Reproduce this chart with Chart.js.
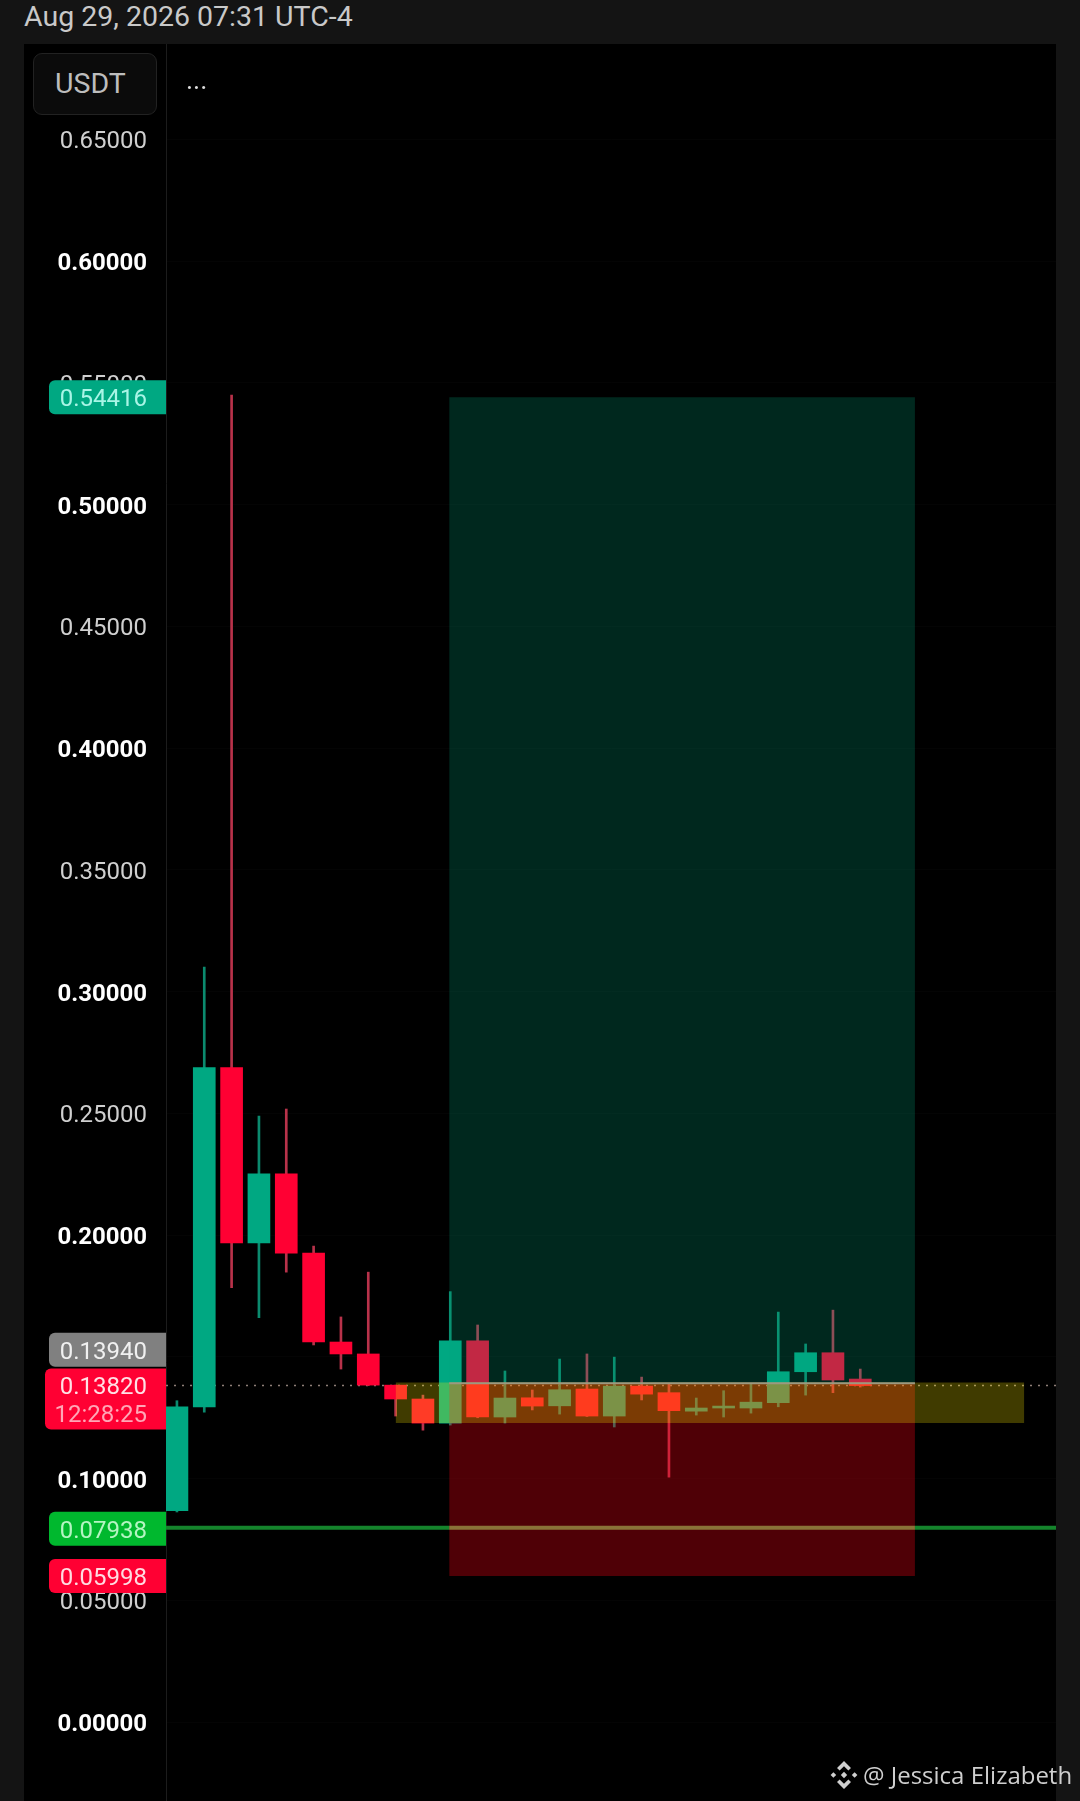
<!DOCTYPE html>
<html>
<head>
<meta charset="utf-8">
<title>USDT</title>
<script src="https://cdn.jsdelivr.net/npm/chart.js@4"></script>
<style>
    html, body { margin: 0; padding: 0; background: #141414; }
    body { width: 1080px; height: 1801px; position: relative; overflow: hidden; font-family: Roboto, sans-serif; }
    #date { position: absolute; left: 24px; top: 0; line-height: 33px; font-size: 28.5px; color: #c9c9c9; white-space: nowrap; }
    #panel { position: absolute; left: 24px; top: 44px; width: 1032px; height: 1757px; background: #000; }
    #panel canvas { position: absolute; left: 0; top: 0; }
    #pair { position: absolute; left: 33px; top: 53px; width: 122px; height: 60px; border: 1px solid #222; border-radius: 9px; background: #0b0b0b; color: #bdbdbd; font-size: 28.5px; line-height: 60px; text-indent: 21px; }
    #more { position: absolute; left: 186px; top: 68px; color: #ddd; font-size: 27px; line-height: 24px; }
    #mark { position: absolute; left: 830px; top: 1759px; height: 32px; color: #cfcfcf; font-family: "Open Sans", sans-serif; font-size: 24px; line-height: 32px; white-space: nowrap; }
    #mark svg { position: absolute; left: 0; top: 2px; }
    #mark span { position: absolute; left: 33px; top: 0; }
</style>
</head>
<body>
<div id="date">Aug 29, 2026 07:31 UTC-4</div>
<div id="panel"><canvas id="priceChart" width="1032" height="1757"></canvas></div>
<div id="pair">USDT</div>
<div id="more">...</div>
<div id="mark">
    <svg width="28" height="28" viewBox="0 0 28 28" fill="#cfcfcf">
        <path d="M14 0l7 7-2.6 2.6L14 5.2 9.6 9.6 7 7z"/>
        <path d="M14 28l-7-7 2.6-2.6 4.4 4.4 4.4-4.4 2.6 2.6z"/>
        <path d="M3.4 11.2L6.2 14l-2.8 2.8L.6 14z"/>
        <path d="M24.6 11.2L27.4 14l-2.8 2.8L21.8 14z"/>
        <path d="M14 10.8l3.2 3.2-3.2 3.2-3.2-3.2z"/>
    </svg>
    <span>@ Jessica Elizabeth</span>
</div>
<script>
// candles, oldest first
const opens  = [0.0868, 0.1294, 0.2688, 0.1968, 0.2252, 0.1926, 0.1561, 0.1512, 0.1384, 0.1327, 0.1228, 0.1566, 0.1253, 0.1332, 0.1299, 0.1368, 0.1257, 0.1380, 0.1353, 0.1277, 0.1290, 0.1290, 0.1312, 0.1439, 0.1517, 0.1409];
const closes = [0.1295, 0.2688, 0.1968, 0.2252, 0.1926, 0.1561, 0.1512, 0.1384, 0.1327, 0.1228, 0.1566, 0.1253, 0.1331, 0.1298, 0.1365, 0.1257, 0.1380, 0.1347, 0.1279, 0.1290, 0.1298, 0.1314, 0.1439, 0.1517, 0.1405, 0.1382];
const highs  = [0.1320, 0.3101, 0.5450, 0.2489, 0.2518, 0.1955, 0.1664, 0.1848, 0.1384, 0.1343, 0.1768, 0.1631, 0.1442, 0.1364, 0.1491, 0.1512, 0.1499, 0.1417, 0.1388, 0.1331, 0.1361, 0.1388, 0.1684, 0.1553, 0.1692, 0.1450];
const lows   = [0.0863, 0.1273, 0.1784, 0.1661, 0.1848, 0.1549, 0.1450, 0.1382, 0.1257, 0.1199, 0.1220, 0.1250, 0.1228, 0.1282, 0.1265, 0.1255, 0.1212, 0.1323, 0.1006, 0.1261, 0.1253, 0.1269, 0.1295, 0.1343, 0.1353, 0.1376];

const tickValues = [0.65, 0.60, 0.55, 0.50, 0.45, 0.40, 0.35, 0.30, 0.25, 0.20, 0.15, 0.10, 0.05, 0.00];
const boldTicks  = [0.60, 0.50, 0.40, 0.30, 0.20, 0.10, 0.00];

// position tool and price levels
const takeProfit = 0.54416;
const entryPrice = 0.13920;
const stopLoss   = 0.05998;
const zoneRange  = [9.96, 27];
const bandRange  = [8, 31];
const bandTop    = 0.1395;
const bandBottom = 0.1228;
const lastPrice  = 0.13820;
const priceLevel = 0.07980;
const xRange     = [-0.4, 32.16];
const yRange     = [-0.0324, 0.6892];

// price tags on the axis
const tagLabels = ['0.54416', '0.13940', '0.07938', '0.05998'];
const tagValues = [0.54416, 0.13940, 0.07938, 0.05998];
const countdown = '12:28:25';

const UP = '#00a882', DOWN = '#ff0033';
const UP_WICK = '#0b8a6e', DOWN_WICK = '#b8324a';
const TAG_COLORS = ['#00a882', '#808080', '#00b82e', '#ff0033'];
const TAG_TEXT = ['#a8f5e6', '#f0f0f0', '#b4f5c2', '#ffdbe1'];

const indexes = opens.map((_, i) => i);
const isUp = i => closes[i] >= opens[i];
const isBold = c => !!c.tick && boldTicks.includes(c.tick.value);

// rounded price tags sit on top of the axis
const tagPlugin = {
    id: 'priceTags',
    afterDraw(chart) {
        const ctx = chart.ctx, y = chart.scales.y, right = chart.chartArea.left;
        ctx.save();
        ctx.font = '24px Roboto';
        ctx.textBaseline = 'middle';
        ctx.textAlign = 'right';
        tagLabels.forEach((label, i) => {
            // the grey tag is pushed up so it clears the last price tag
            const py = y.getPixelForValue(tagValues[i]) + (i === 1 ? -33 : 0);
            ctx.fillStyle = TAG_COLORS[i];
            ctx.beginPath();
            ctx.roundRect(25, py - 17, right - 25, 34, [6, 0, 0, 6]);
            ctx.fill();
            ctx.fillStyle = TAG_TEXT[i];
            ctx.fillText(label, 123, py + 3);
        });
        // last price tag with the countdown under it
        const py = y.getPixelForValue(lastPrice);
        ctx.fillStyle = '#ff0033';
        ctx.beginPath();
        ctx.roundRect(21, py - 17, right - 21, 61, [6, 0, 0, 6]);
        ctx.fill();
        ctx.fillStyle = '#ffe0e5';
        ctx.fillText(lastPrice.toFixed(5), 123, py + 2);
        ctx.fillStyle = '#ffa6b6';
        ctx.fillText(countdown, 123, py + 30);
        ctx.restore();
    }
};

new Chart(document.getElementById('priceChart'), {
    type: 'bar',
    data: {
        datasets: [
            {
                type: 'line', label: 'entry', order: 0,
                data: zoneRange.map(x => ({ x, y: entryPrice })),
                borderWidth: 2, borderColor: '#9c9880', pointRadius: 0, fill: false
            },
            {
                type: 'line', label: 'band', order: 1,
                data: bandRange.map(x => ({ x, y: bandTop })),
                fill: { value: bandBottom }, backgroundColor: 'rgba(255,235,0,0.25)',
                borderWidth: 0, pointRadius: 0
            },
            {
                type: 'line', label: 'level', order: 2,
                data: [xRange[0], zoneRange[0], zoneRange[1], xRange[1]].map(x => ({ x, y: priceLevel })),
                borderWidth: 4, borderColor: '#15842c', pointRadius: 0, fill: false,
                segment: { borderColor: c => c.p0DataIndex === 1 ? '#8a7238' : '#15842c' }
            },
            {
                type: 'line', label: 'target', order: 3,
                data: zoneRange.map(x => ({ x, y: takeProfit })),
                fill: { value: entryPrice }, backgroundColor: 'rgba(0,168,125,0.24)',
                borderWidth: 0, pointRadius: 0
            },
            {
                type: 'line', label: 'stop', order: 4,
                data: zoneRange.map(x => ({ x, y: stopLoss })),
                fill: { value: entryPrice }, backgroundColor: 'rgba(255,0,20,0.31)',
                borderWidth: 0, pointRadius: 0
            },
            {
                label: 'body', order: 5, grouped: false, barThickness: 22,
                data: indexes.map(i => ({ x: i, y: [opens[i], closes[i]] })),
                backgroundColor: indexes.map(i => isUp(i) ? UP : DOWN),
                borderWidth: 0
            },
            {
                label: 'wick', order: 6, grouped: false, barThickness: 2,
                data: indexes.map(i => ({ x: i, y: [lows[i], highs[i]] })),
                backgroundColor: indexes.map(i => isUp(i) ? UP_WICK : DOWN_WICK),
                borderWidth: 0
            },
            {
                type: 'line', label: 'last', order: 7,
                data: xRange.map(x => ({ x, y: lastPrice })),
                borderWidth: 1.5, borderDash: [2, 6], borderColor: '#8f7f78', pointRadius: 0, fill: false
            }
        ]
    },
    options: {
        responsive: false,
        animation: false,
        events: [],
        layout: { padding: 0 },
        plugins: { legend: { display: false }, tooltip: { enabled: false } },
        scales: {
            x: { type: 'linear', display: false, offset: false, min: xRange[0], max: xRange[1] },
            y: {
                position: 'left',
                min: yRange[0],
                max: yRange[1],
                afterFit(scale) { scale.width = 142; scale.paddingTop = 0; scale.paddingBottom = 0; },
                afterBuildTicks(scale) { scale.ticks = tickValues.map(value => ({ value })); },
                border: { color: '#1c1c1c', width: 1 },
                grid: { color: 'rgba(255,255,255,0.014)', drawTicks: false },
                ticks: {
                    padding: 19,
                    labelOffset: 3,
                    autoSkip: false,
                    font: c => ({ family: 'Roboto', size: 24, weight: isBold(c) ? 'bold' : 'normal' }),
                    color: c => isBold(c) ? '#ffffff' : '#cfcfcf',
                    callback: value => value.toFixed(5)
                }
            }
        }
    },
    plugins: [tagPlugin]
});
</script>
</body>
</html>
